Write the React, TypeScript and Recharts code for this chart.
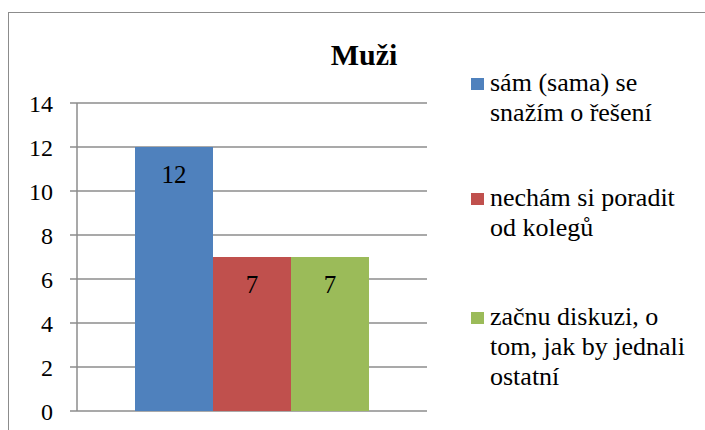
import { Bar, BarChart, CartesianGrid, LabelList, XAxis, YAxis } from "recharts";

const categories = ["Muži"];
const seriesNames = [
  "sám (sama) se snažím o řešení",
  "nechám si poradit od kolegů",
  "začnu diskuzi, o tom, jak by jednali ostatní",
];
const seriesValues = [12, 7, 7];
const seriesColors = ["#4f81bd", "#c0504d", "#9bbb59"];
const yTicks = [0, 2, 4, 6, 8, 10, 12, 14];

const data = categories.map((name) => {
  const row: Record<string, string | number> = { name };
  seriesValues.forEach((v, i) => {
    row[`s${i}`] = v;
  });
  return row;
});

const FONT = "Liberation Serif";
const gray = "#8c8c8c";

function LegendBox() {
  return (
    <div
      style={{
        position: "absolute",
        left: 471,
        top: 68,
        fontFamily: FONT,
        fontSize: 26,
        lineHeight: "30px",
        color: "#000",
      }}
    >
      {seriesNames.map((n, i) => (
        <div key={n} style={{ display: "flex", alignItems: "flex-start", marginBottom: i === 0 ? 55 : 59 }}>
          <span
            style={{
              width: 13,
              height: 12,
              background: seriesColors[i],
              marginTop: 10,
              marginRight: 6,
              flex: "none",
            }}
          />
          <span style={{ width: 212 }}>{n}</span>
        </div>
      ))}
    </div>
  );
}

export default function App() {
  return (
    <div
      style={{
        position: "fixed",
        left: 0,
        top: 0,
        width: 705,
        height: 430,
        overflow: "hidden",
        background: "#fff",
        fontFamily: FONT,
      }}
    >
      <div
        style={{
          position: "absolute",
          left: 8,
          top: 12,
          width: 760,
          height: 480,
          border: `1.5px solid ${gray}`,
        }}
      />
      <div
        style={{
          position: "absolute",
          left: 0,
          top: 38,
          width: 728,
          textAlign: "center",
          fontFamily: FONT,
          fontWeight: "bold",
          fontSize: 30,
          lineHeight: "34px",
        }}
      >
        {categories[0]}
      </div>
      <div style={{ position: "absolute", left: 0, top: 0 }}>
        <BarChart
          width={705}
          height={430}
          data={data}
          margin={{ top: 103, right: 278, bottom: 19, left: 17 }}
          barGap={0}
          barSize={78}
          style={{ fontFamily: FONT }}
        >
          <CartesianGrid vertical={false} stroke={gray} strokeWidth={1.5} />
          <XAxis dataKey="name" hide />
          <YAxis
            width={60}
            domain={[0, 14]}
            ticks={yTicks}
            interval={0}
            stroke={gray}
            strokeWidth={1.5}
            tickSize={7}
            tickMargin={17}
            tick={{ fill: "#000", fontFamily: FONT, fontSize: 24 }}
          />
          {seriesNames.map((n, i) => (
            <Bar key={n} dataKey={`s${i}`} name={n} fill={seriesColors[i]} isAnimationActive={false}>
              <LabelList
                dataKey={`s${i}`}
                position="insideTop"
                offset={18}
                fill="#000"
                fontFamily={FONT}
                fontSize={25}
              />
            </Bar>
          ))}
        </BarChart>
      </div>
      <LegendBox />
    </div>
  );
}
